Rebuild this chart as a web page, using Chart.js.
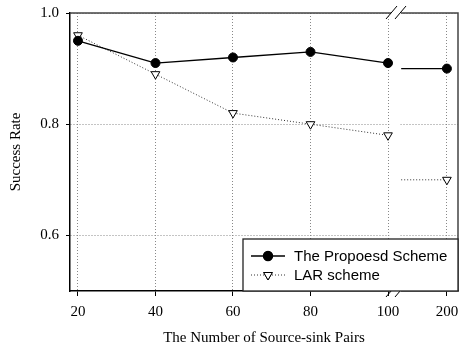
<!DOCTYPE html>
<html>
<head>
<meta charset="utf-8">
<script src="https://cdn.jsdelivr.net/npm/chart.js@4/dist/chart.umd.min.js"></script>
<style>
html, body { margin: 0; padding: 0; background: #fff; }
#wrap { width: 459px; height: 348px; }
</style>
</head>
<body>
<div id="wrap"><canvas id="lineChart" width="459" height="348"></canvas></div>
<script>
var pairs = ['20', '40', '60', '80', '100', '200'];
var proposed = [0.95, 0.91, 0.92, 0.93, 0.91, 0.90];
var lar = [0.96, 0.89, 0.82, 0.80, 0.78, 0.70];
var yTicks = [0.6, 0.8, 1.0];
var seriesNames = ['The Propoesd Scheme', 'LAR scheme'];

// broken x axis: 20..100 is linear, 200 sits just past the break
var breakTo = 103.4;
function axisPos(v) { return v <= 100 ? v : 115.2; }

function toPoints(values) {
    return values.map(function (v, i) { return { x: axisPos(Number(pairs[i])), y: v }; });
}

var serif = 'Liberation Serif';

var brokenAxis = {
    id: 'brokenAxis',
    beforeDatasetsDraw: function (chart) {
        var ctx = chart.ctx, a = chart.chartArea, xs = chart.scales.x;
        ctx.save();
        // gap in the grid at the break
        ctx.fillStyle = '#fff';
        var g0 = xs.getPixelForValue(100) + 1.5, g1 = xs.getPixelForValue(breakTo) - 1;
        ctx.fillRect(g0, a.top + 1, g1 - g0, a.bottom - a.top - 2);
        // short stubs leading into the last point
        chart.data.datasets.forEach(function (ds, di) {
            var meta = chart.getDatasetMeta(di);
            var last = meta.data[meta.data.length - 1];
            ctx.beginPath();
            ctx.setLineDash(ds.borderDash || []);
            ctx.strokeStyle = ds.borderColor;
            ctx.lineWidth = ds.borderWidth;
            ctx.moveTo(xs.getPixelForValue(breakTo), last.y);
            ctx.lineTo(last.x, last.y);
            ctx.stroke();
        });
        ctx.restore();
    },
    afterDraw: function (chart) {
        var ctx = chart.ctx, a = chart.chartArea, xs = chart.scales.x;
        ctx.save();
        // top and right frame
        ctx.strokeStyle = '#444';
        ctx.lineWidth = 1.5;
        ctx.beginPath();
        ctx.moveTo(a.left, a.top);
        ctx.lineTo(a.right, a.top);
        ctx.lineTo(a.right, a.bottom);
        ctx.stroke();
        // break marks
        var cx = xs.getPixelForValue(100) + 8;
        [a.top, a.bottom].forEach(function (y) {
            ctx.fillStyle = '#fff';
            ctx.fillRect(cx - 5, y - 2, 10, 4);
            ctx.strokeStyle = '#000';
            ctx.lineWidth = 1;
            [-4, 5].forEach(function (d) {
                ctx.beginPath();
                ctx.moveTo(cx + d - 6, y + 6);
                ctx.lineTo(cx + d + 5, y - 7);
                ctx.stroke();
            });
        });
        // legend box
        var bx = 243, by = 239, bw = a.right - bx, bh = a.bottom - by;
        ctx.fillStyle = '#fff';
        ctx.fillRect(bx, by, bw, bh);
        ctx.strokeStyle = '#222';
        ctx.lineWidth = 1.3;
        ctx.strokeRect(bx, by, bw, bh);
        ctx.font = '15px "Liberation Sans", Arial, sans-serif';
        ctx.textBaseline = 'middle';
        chart.data.datasets.forEach(function (ds, di) {
            var y = by + 17 + di * 19;
            ctx.beginPath();
            ctx.setLineDash(ds.borderDash || []);
            ctx.strokeStyle = ds.borderColor;
            ctx.lineWidth = ds.borderWidth;
            ctx.moveTo(bx + 8, y);
            ctx.lineTo(bx + 42, y);
            ctx.stroke();
            ctx.setLineDash([]);
            Chart.helpers.drawPoint(ctx, {
                pointStyle: ds.pointStyle, rotation: ds.rotation || 0,
                radius: ds.pointRadius, borderWidth: ds.pointBorderWidth
            }, bx + 25, y);
            ctx.fillStyle = ds.pointBackgroundColor;
            ctx.strokeStyle = ds.pointBorderColor;
            ctx.lineWidth = ds.pointBorderWidth;
            ctx.fill();
            ctx.stroke();
            ctx.fillStyle = '#000';
            ctx.fillText(ds.label, bx + 51, y + 1);
        });
        ctx.restore();
    }
};

var ctxLine = document.getElementById('lineChart').getContext('2d');
var lineChart = new Chart(ctxLine, {
    type: 'line',
    data: {
        datasets: [{
            label: seriesNames[0],
            data: toPoints(proposed),
            borderColor: '#000',
            borderWidth: 1.3,
            pointStyle: 'circle',
            pointRadius: 4.5,
            pointBackgroundColor: '#000',
            pointBorderColor: '#000',
            pointBorderWidth: 1,
            segment: {
                borderColor: function (c) { return c.p1DataIndex === pairs.length - 1 ? 'rgba(0,0,0,0)' : undefined; }
            }
        }, {
            label: seriesNames[1],
            data: toPoints(lar),
            borderColor: '#333',
            borderWidth: 1,
            borderDash: [1, 2],
            pointStyle: 'triangle',
            rotation: 180,
            pointRadius: 5,
            pointBackgroundColor: '#fff',
            pointBorderColor: '#000',
            pointBorderWidth: 1,
            segment: {
                borderColor: function (c) { return c.p1DataIndex === pairs.length - 1 ? 'rgba(0,0,0,0)' : undefined; }
            }
        }]
    },
    options: {
        responsive: false,
        animation: false,
        devicePixelRatio: 1,
        layout: { autoPadding: false, padding: { top: 13, right: 1, left: 0, bottom: 0 } },
        plugins: {
            legend: { display: false },
            tooltip: { enabled: false }
        },
        scales: {
            x: {
                type: 'linear',
                min: 17.94,
                max: 118.06,
                afterFit: function (s) { s.height = 57; s.paddingLeft = 0; s.paddingRight = 0; },
                afterBuildTicks: function (s) {
                    s.ticks = pairs.map(function (c) { return { value: axisPos(Number(c)) }; });
                },
                ticks: {
                    font: { family: serif, size: 15 },
                    color: '#000',
                    padding: 7,
                    maxRotation: 0,
                    autoSkip: false,
                    callback: function (value) {
                        for (var i = 0; i < pairs.length; i++) {
                            if (axisPos(Number(pairs[i])) === value) return pairs[i];
                        }
                        return '';
                    }
                },
                grid: { color: '#888', lineWidth: 1, tickColor: '#000', tickLength: 5, tickWidth: 1 },
                border: { display: true, color: '#000', width: 1.5, dash: [1, 2] },
                title: {
                    display: true,
                    text: 'The Number of Source-sink Pairs',
                    font: { family: serif, size: 15 },
                    color: '#000',
                    padding: { top: 0, bottom: 1 }
                }
            },
            y: {
                min: 0.5,
                max: 1.0,
                afterFit: function (s) { s.width = 70; s.paddingTop = 0; s.paddingBottom = 0; },
                afterBuildTicks: function (s) {
                    s.ticks = yTicks.map(function (v) { return { value: v }; });
                },
                ticks: {
                    font: { family: serif, size: 15 },
                    color: '#000',
                    padding: 7,
                    callback: function (value) { return value.toFixed(1); }
                },
                grid: { color: '#888', lineWidth: 1, tickColor: '#000', tickLength: 4, tickWidth: 1 },
                border: { display: true, color: '#000', width: 1.5, dash: [1, 2] },
                title: {
                    display: true,
                    text: 'Success Rate',
                    font: { family: serif, size: 15 },
                    color: '#000',
                    padding: { top: 7, bottom: 0 }
                }
            }
        }
    },
    plugins: [brokenAxis]
});
</script>
</body>
</html>
